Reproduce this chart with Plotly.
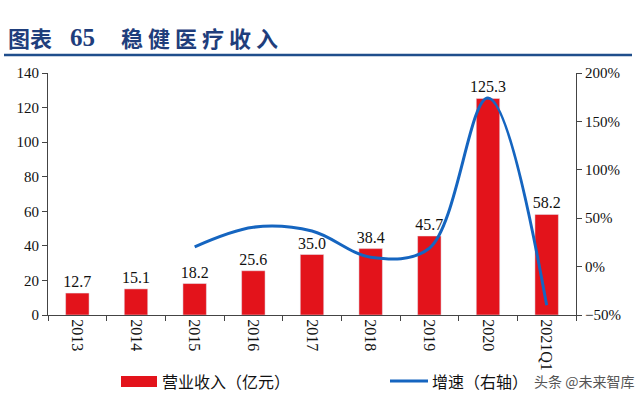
import plotly.graph_objects as go

categories = ["2013", "2014", "2015", "2016", "2017", "2018", "2019", "2020", "2021Q1"]
revenue = [12.7, 15.1, 18.2, 25.6, 35.0, 38.4, 45.7, 125.3, 58.2]
growth_cats = ["2015", "2016", "2017", "2018", "2019", "2020", "2021Q1"]
growth = [20.5, 40.7, 36.7, 9.7, 19.0, 174.2, -40.0]
rev_labels = [f"{v:.1f}" for v in revenue]

W, H = 640, 398
L, R, T, B = 48, 64, 73, 83
pw, ph = W - L - R, H - T - B

def px(x):
    return (x - L) / pw

def py(y):
    return (H - B - y) / ph

fig = go.Figure()
fig.add_trace(go.Bar(
    x=categories, y=revenue, marker_color="#E3131B", width=0.4,
    text=rev_labels, textposition="outside", cliponaxis=False, constraintext="none",
    textfont=dict(family="Liberation Serif", size=16, color="#111"),
    name="营业收入（亿元）", showlegend=False))
fig.add_trace(go.Scatter(
    x=growth_cats, y=growth, yaxis="y2", mode="lines",
    line=dict(color="#1565C0", width=3, shape="spline", smoothing=1.0),
    name="增速（右轴）", showlegend=False))

tickfont = dict(family="Liberation Serif", size=15, color="#111")
fig.update_layout(
    width=W, height=H, margin=dict(l=L, r=R, t=T, b=B),
    paper_bgcolor="white", plot_bgcolor="white",
    bargap=0.6,
    xaxis=dict(type="category", tickangle=90, tickfont=dict(family="Liberation Serif", size=16, color="#111"),
               showline=True, linecolor="#444", linewidth=1,
               ticks="outside", tickson="boundaries", ticklen=5, tickcolor="#444",
               showgrid=False),
    yaxis=dict(range=[0, 140], dtick=20, tickfont=tickfont, showline=True,
               linecolor="#444", linewidth=1, ticks="outside", ticklen=5,
               tickcolor="#444", showgrid=False, zeroline=False),
    yaxis2=dict(range=[-50, 200], dtick=50, ticksuffix="%", overlaying="y", side="right",
                tickfont=tickfont, showline=True, linecolor="#444", linewidth=1,
                ticks="outside", ticklen=5, tickcolor="#444", showgrid=False, zeroline=False),
    font=dict(family="Noto Sans CJK SC"),
)

# title and rule
title_font = dict(family="Noto Sans CJK SC", size=22, color="#1F3E7C")
fig.add_annotation(xref="paper", yref="paper", x=px(6), y=py(37), xanchor="left", yanchor="middle",
                   text="<b>图表</b>", showarrow=False, font=title_font)
fig.add_annotation(xref="paper", yref="paper", x=px(68), y=py(37), xanchor="left", yanchor="middle",
                   text="<b>65</b>", showarrow=False,
                   font=dict(family="Liberation Serif", size=25, color="#1F3E7C"))
fig.add_annotation(xref="paper", yref="paper", x=px(119), y=py(37), xanchor="left", yanchor="middle",
                   text="<b>稳 健 医 疗 收 入</b>", showarrow=False, font=title_font)
fig.add_shape(type="line", xref="paper", yref="paper", x0=px(4), x1=px(632), y0=py(55), y1=py(55),
              line=dict(color="#1F4E8C", width=2.5))

# legend
fig.add_shape(type="rect", xref="paper", yref="paper", x0=px(121), x1=px(157), y0=py(387), y1=py(376),
              fillcolor="#E3131B", line=dict(width=0))
fig.add_annotation(xref="paper", yref="paper", x=px(160), y=py(381), xanchor="left", yanchor="middle",
                   text="营业收入（亿元）", showarrow=False,
                   font=dict(family="Noto Sans CJK SC", size=16, color="#111"))
fig.add_shape(type="line", xref="paper", yref="paper", x0=px(390), x1=px(428), y0=py(381), y1=py(381),
              line=dict(color="#1565C0", width=3))
fig.add_annotation(xref="paper", yref="paper", x=px(430), y=py(381), xanchor="left", yanchor="middle",
                   text="增速（右轴）", showarrow=False,
                   font=dict(family="Noto Sans CJK SC", size=16, color="#111"))
fig.add_annotation(xref="paper", yref="paper", x=px(532), y=py(381), xanchor="left", yanchor="middle",
                   text="头条 @未来智库", showarrow=False,
                   font=dict(family="Noto Sans CJK SC", size=14, color="#555"))

fig.write_html("out.html")
